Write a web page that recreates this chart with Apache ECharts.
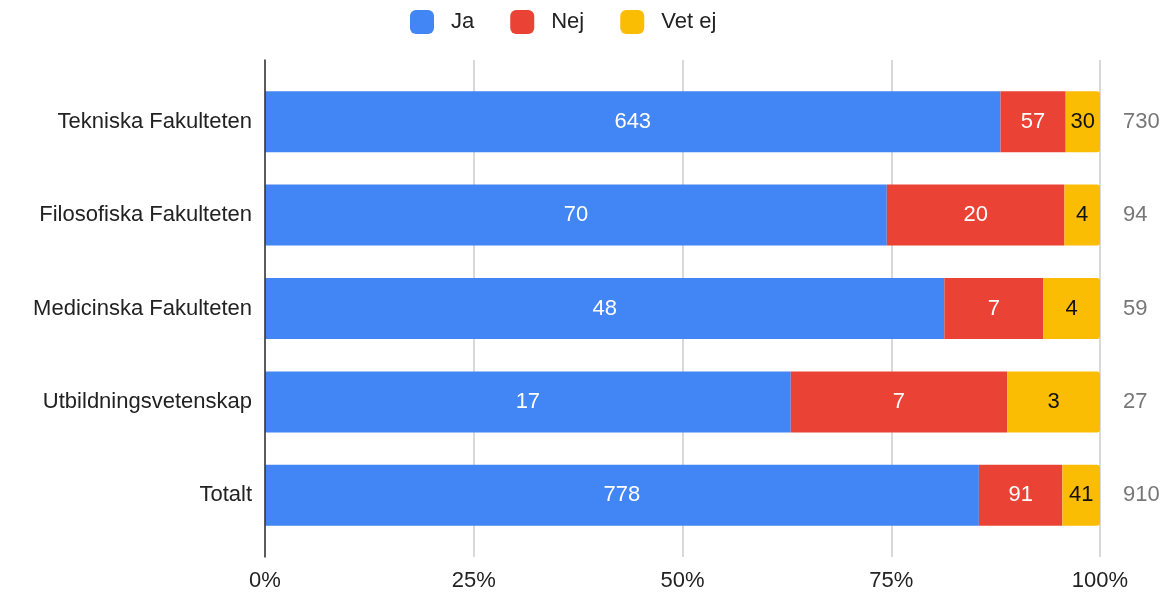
<!DOCTYPE html>
<html>
<head>
<meta charset="utf-8">
<script src="https://cdn.jsdelivr.net/npm/echarts@6/dist/echarts.min.js"></script>
<style>
  html, body { margin: 0; padding: 0; background: #fff; }
  #chart { width: 1176px; height: 597px; }
</style>
</head>
<body>
<div id="chart"></div>
<script>
// data
var categories = ['Tekniska Fakulteten', 'Filosofiska Fakulteten', 'Medicinska Fakulteten', 'Utbildningsvetenskap', 'Totalt'];
var jaCounts = [643, 70, 48, 17, 778];
var nejCounts = [57, 20, 7, 7, 91];
var vetEjCounts = [30, 4, 4, 3, 41];
var totals = [730, 94, 59, 27, 910];
var xTicks = [0, 25, 50, 75, 100];

var font = 'Liberation Sans, Arial, sans-serif';

// share of each row, in percent
function pct(arr) {
    return arr.map(function (v, i) {
        return { value: v / totals[i] * 100, count: v };
    });
}

var chart = echarts.init(document.getElementById('chart'));

function seg(name, arr, color, textColor, radius) {
    return {
        name: name,
        type: 'bar',
        stack: 'all',
        xAxisIndex: 1,
        yAxisIndex: 1,
        barWidth: 61,
        data: pct(arr),
        itemStyle: { color: color, borderRadius: radius },
        label: {
            show: true,
            position: 'inside',
            color: textColor,
            fontSize: 22,
            fontFamily: font,
            formatter: function (p) { return p.data.count; }
        },
        emphasis: { disabled: true }
    };
}

var option = {
    animation: false,
    textStyle: { fontFamily: font },
    legend: {
        top: 5,
        left: 405,
        icon: 'roundRect',
        itemWidth: 24,
        itemHeight: 24,
        itemGap: 36,
        textStyle: { fontSize: 22, color: '#222', padding: [0, 0, 0, 12] },
        data: ['Ja', 'Nej', 'Vet ej']
    },
    grid: [
        // decoration grid: gridlines, axis line and % labels
        { left: 265, right: 76, top: 60, bottom: 40 },
        // bars
        { left: 265, right: 76, top: 75, bottom: 55 }
    ],
    xAxis: [
        {
            type: 'value',
            gridIndex: 0,
            min: 0,
            max: 100,
            interval: 25,
            axisLine: { show: false },
            axisTick: { show: false },
            splitLine: { lineStyle: { color: '#cccccc', width: 1.5 } },
            axisLabel: {
                fontSize: 22,
                color: '#222',
                margin: 13,
                formatter: function (v) { return xTicks.indexOf(v) >= 0 ? v + '%' : ''; }
            }
        },
        {
            type: 'value',
            gridIndex: 1,
            min: 0,
            max: 100,
            show: false
        }
    ],
    yAxis: [
        {
            type: 'value',
            gridIndex: 0,
            z: 10,
            axisLine: { show: true, lineStyle: { color: '#333', width: 1.5 } },
            axisTick: { show: false },
            axisLabel: { show: false },
            splitLine: { show: false }
        },
        {
            type: 'category',
            gridIndex: 1,
            inverse: true,
            data: categories,
            axisLine: { show: false },
            axisTick: { show: false },
            axisLabel: { fontSize: 22, color: '#222', margin: 13 }
        },
        {
            type: 'category',
            gridIndex: 1,
            position: 'right',
            inverse: true,
            data: totals,
            axisLine: { show: false },
            axisTick: { show: false },
            axisLabel: { fontSize: 22, color: '#777', margin: 23 }
        }
    ],
    series: [
        seg('Ja', jaCounts, '#4285F4', '#fff', 0),
        seg('Nej', nejCounts, '#EA4335', '#fff', 0),
        seg('Vet ej', vetEjCounts, '#FBBC04', '#111', [0, 3, 3, 0])
    ]
};

chart.setOption(option);
</script>
</body>
</html>
